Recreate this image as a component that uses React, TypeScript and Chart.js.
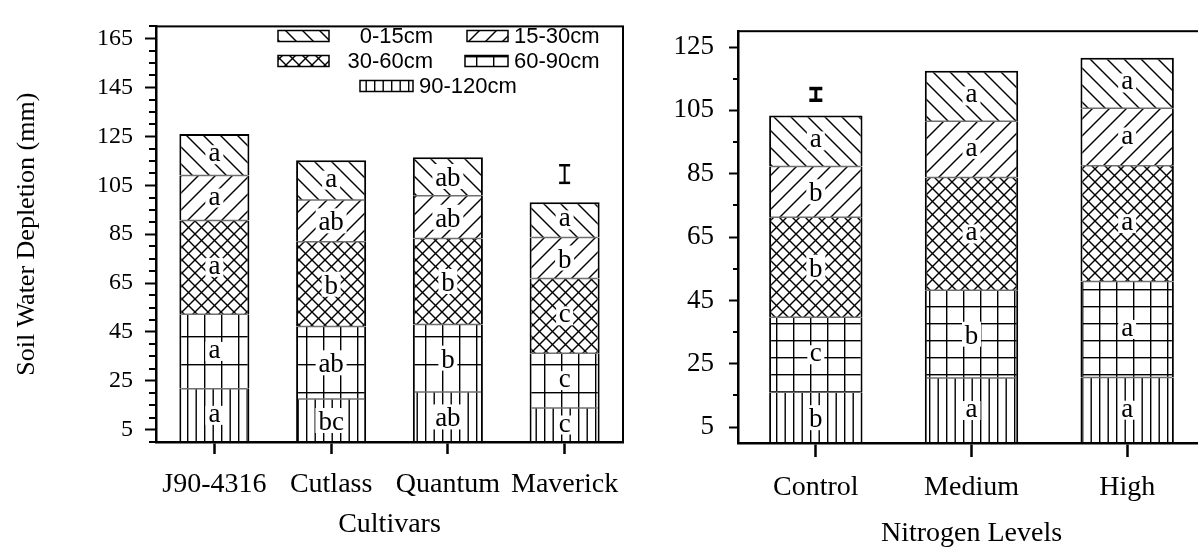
import React, { useEffect, useRef } from 'react';
import { Chart, registerables } from 'chart.js';
Chart.register(...registerables);

const SERIF = "'Liberation Serif', 'Times New Roman', serif";
const SANS = "'Liberation Sans', Arial, sans-serif";

// ---------- Data: soil layers ----------
const layers = ['0-15cm', '15-30cm', '30-60cm', '60-90cm', '90-120cm'];

// ---------- Left panel: cultivars ----------
const cultivars = ['J90-4316', 'Cutlass', 'Quantum', 'Maverick'];
const cult_0_15 = [17.0, 16.2, 15.8, 14.5];
const cult_15_30 = [18.4, 17.1, 17.5, 16.7];
const cult_30_60 = [38.3, 34.7, 35.1, 30.6];
const cult_60_90 = [30.5, 29.6, 27.6, 22.4];
const cult_90_120 = [21.8, 17.6, 20.5, 13.9];
const cultLetters_0_15 = ['a', 'a', 'ab', 'a'];
const cultLetters_15_30 = ['a', 'ab', 'ab', 'b'];
const cultLetters_30_60 = ['a', 'b', 'b', 'c'];
const cultLetters_60_90 = ['a', 'ab', 'b', 'c'];
const cultLetters_90_120 = ['a', 'bc', 'ab', 'c'];
const cultMajorTicks = [5, 25, 45, 65, 85, 105, 125, 145, 165];
const cultMinorTicks = [0, 10, 15, 20, 30, 35, 40, 50, 55, 60, 70, 75, 80, 90, 95, 100, 110, 115, 120, 130, 135, 140, 150, 155, 160, 170];
const cultLsdAt = 'Maverick';
const cultLsdRange = [106.0, 113.2];

// ---------- Right panel: nitrogen levels ----------
const nitrogen = ['Control', 'Medium', 'High'];
const nit_0_15 = [16.1, 15.9, 15.9];
const nit_15_30 = [16.0, 17.8, 18.2];
const nit_30_60 = [31.6, 35.6, 36.5];
const nit_60_90 = [23.7, 27.7, 30.3];
const nit_90_120 = [16.0, 20.5, 20.7];
const nitLetters_0_15 = ['a', 'a', 'a'];
const nitLetters_15_30 = ['b', 'a', 'a'];
const nitLetters_30_60 = ['b', 'a', 'a'];
const nitLetters_60_90 = ['c', 'b', 'a'];
const nitLetters_90_120 = ['b', 'a', 'a'];
const nitMajorTicks = [5, 25, 45, 65, 85, 105, 125];
const nitMinorTicks = [15, 35, 55, 75, 95, 115];
const nitLsdAt = 'Control';
const nitLsdRange = [108.2, 111.9];

// ---------- Patterns ----------
type Kind = 'back' | 'slash' | 'cross' | 'grid' | 'vert';
interface PatCfg { diag: number; cross: number; gridW: number; gridH: number; vert: number; lw: number; }

function makePattern(kind: Kind, cfg: PatCfg): CanvasPattern {
  const c = document.createElement('canvas');
  let w = 10, h = 10;
  if (kind === 'back' || kind === 'slash') { w = h = cfg.diag; }
  else if (kind === 'cross') { w = h = cfg.cross; }
  else if (kind === 'grid') { w = cfg.gridW; h = cfg.gridH; }
  else { w = Math.round(cfg.vert * 2); h = 10; }
  c.width = w; c.height = h;
  const g = c.getContext('2d')!;
  g.fillStyle = '#fff';
  g.fillRect(0, 0, w, h);
  g.strokeStyle = '#000';
  g.fillStyle = '#000';
  g.lineWidth = cfg.lw;
  const s = w;
  const back = () => {
    for (let k = -1; k <= 1; k++) {
      g.beginPath();
      g.moveTo(-s, -s + k * s);
      g.lineTo(2 * s, 2 * s + k * s);
      g.stroke();
    }
  };
  const slash = () => {
    for (let k = -1; k <= 2; k++) {
      g.beginPath();
      g.moveTo(-s, s + k * s);
      g.lineTo(2 * s, -2 * s + k * s);
      g.stroke();
    }
  };
  if (kind === 'back') back();
  else if (kind === 'slash') slash();
  else if (kind === 'cross') { back(); slash(); }
  else if (kind === 'grid') {
    g.fillRect(0, 0, cfg.lw, h);
    g.fillRect(0, 0, w, cfg.lw);
  } else {
    g.fillRect(0, 0, cfg.lw, h);
    g.fillRect(w / 2, 0, cfg.lw, h);
  }
  return g.createPattern(c, 'repeat')!;
}

// ---------- Plugins ----------
// thin grey dividing line at the top of every segment that has another segment above it
const segmentDividers = {
  id: 'segmentDividers',
  afterDatasetsDraw(chart: any, _a: any, opts: any) {
    const ctx: CanvasRenderingContext2D = chart.ctx;
    const n = chart.data.datasets.length;
    ctx.save();
    ctx.strokeStyle = opts.color || '#777';
    ctx.lineWidth = opts.width || 1.5;
    for (let i = 0; i < n - 1; i++) {
      const meta = chart.getDatasetMeta(i);
      meta.data.forEach((el: any) => {
        const { x, y, width } = el.getProps(['x', 'y', 'width'], true);
        ctx.beginPath();
        ctx.moveTo(x - width / 2 + 2, y);
        ctx.lineTo(x + width / 2 - 2, y);
        ctx.stroke();
      });
    }
    ctx.restore();
  },
};

const segmentLetters = {
  id: 'segmentLetters',
  afterDatasetsDraw(chart: any, _a: any, opts: any) {
    const ctx: CanvasRenderingContext2D = chart.ctx;
    ctx.save();
    ctx.font = opts.font;
    ctx.textAlign = 'center';
    ctx.textBaseline = 'alphabetic';
    chart.data.datasets.forEach((ds: any, i: number) => {
      const meta = chart.getDatasetMeta(i);
      if (!ds.letters) return;
      meta.data.forEach((el: any, j: number) => {
        const t = ds.letters[j];
        if (!t) return;
        const { x, y, base } = el.getProps(['x', 'y', 'base'], true);
        const cy = (y + base) / 2;
        const m = ctx.measureText(t);
        const asc = m.actualBoundingBoxAscent;
        const desc = m.actualBoundingBoxDescent;
        const bl = cy + (asc - desc) / 2;
        const wl = m.actualBoundingBoxLeft + m.actualBoundingBoxRight;
        ctx.fillStyle = '#fff';
        ctx.fillRect(x - wl / 2 - 3, bl - asc - 3, wl + 6, asc + desc + 6);
        ctx.fillStyle = '#000';
        ctx.fillText(t, x, bl);
      });
    });
    ctx.restore();
  },
};

const lsdBar = {
  id: 'lsdBar',
  afterDatasetsDraw(chart: any, _a: any, opts: any) {
    if (!opts.range) return;
    const ctx: CanvasRenderingContext2D = chart.ctx;
    const xs = chart.scales.x;
    const ys = chart.scales.y;
    const x = xs.getPixelForValue(xs.getLabels().indexOf(opts.at));
    const y1 = ys.getPixelForValue(opts.range[0]);
    const y2 = ys.getPixelForValue(opts.range[1]);
    ctx.save();
    ctx.fillStyle = '#000';
    ctx.fillRect(x - opts.stem / 2, y2, opts.stem, y1 - y2);
    ctx.fillRect(x - opts.capW / 2, y2 - opts.capT / 2, opts.capW, opts.capT);
    ctx.fillRect(x - opts.capW / 2, y1 - opts.capT / 2, opts.capW, opts.capT);
    ctx.restore();
  },
};

const minorTicks = {
  id: 'minorTicks',
  afterDraw(chart: any, _a: any, opts: any) {
    if (!opts.values) return;
    const ctx: CanvasRenderingContext2D = chart.ctx;
    const ys = chart.scales.y;
    const left = chart.chartArea.left;
    ctx.save();
    ctx.strokeStyle = '#000';
    ctx.lineWidth = opts.width;
    ctx.beginPath();
    opts.values.forEach((v: number) => {
      const py = Math.round(ys.getPixelForValue(v));
      ctx.moveTo(left, py);
      ctx.lineTo(left - opts.length, py);
    });
    ctx.stroke();
    ctx.restore();
  },
};

const frame = {
  id: 'frame',
  afterDraw(chart: any, _a: any, opts: any) {
    const ctx: CanvasRenderingContext2D = chart.ctx;
    const { left, right, top, bottom } = chart.chartArea;
    ctx.save();
    ctx.strokeStyle = '#000';
    ctx.lineWidth = opts.width || 2;
    ctx.strokeRect(left, top, right - left, bottom - top);
    ctx.restore();
  },
};

const patternLegend = {
  id: 'patternLegend',
  afterDraw(chart: any, _a: any, opts: any) {
    if (!opts.items) return;
    const ctx: CanvasRenderingContext2D = chart.ctx;
    ctx.save();
    ctx.font = opts.font;
    ctx.textBaseline = 'middle';
    opts.items.forEach((it: any) => {
      const ds = chart.data.datasets.find((d: any) => d.label === it.label);
      ctx.fillStyle = ds.backgroundColor;
      ctx.fillRect(it.boxX, it.y - it.boxH / 2, it.boxW, it.boxH);
      ctx.strokeStyle = '#000';
      ctx.lineWidth = 1.5;
      ctx.strokeRect(it.boxX, it.y - it.boxH / 2, it.boxW, it.boxH);
      ctx.fillStyle = '#000';
      ctx.textAlign = it.align;
      ctx.fillText(it.label, it.textX, it.y + 1);
    });
    ctx.restore();
  },
};

// ---------- Chart builders ----------
function buildDatasets(values: number[][], letters: string[][], cfg: PatCfg) {
  // bottom-most layer first so that stacking matches the figure
  const kinds: Kind[] = ['vert', 'grid', 'cross', 'slash', 'back'];
  const names = [layers[4], layers[3], layers[2], layers[1], layers[0]];
  return names.map((name, i) => ({
    label: name,
    data: values[i],
    letters: letters[i],
    backgroundColor: makePattern(kinds[i], cfg),
    borderColor: '#000',
    borderWidth: { top: i === 4 ? 2 : 0, left: 2, right: 2, bottom: 0 },
    borderSkipped: false,
    barPercentage: 0.6,
    categoryPercentage: 1.0,
    stack: 's',
  }));
}

function makeConfig(p: any) {
  return {
    type: 'bar',
    data: { labels: p.labels, datasets: p.datasets },
    options: {
      responsive: false,
      animation: false,
      events: [],
      layout: { padding: p.padding },
      plugins: {
        legend: { display: false },
        tooltip: { enabled: false },
        segmentDividers: { color: '#6f6f6f', width: 1.5 },
        segmentLetters: { font: `27px ${SERIF}` },
        lsdBar: p.lsd,
        minorTicks: { values: p.minor, length: p.minorLen, width: 2 },
        frame: { width: 2 },
        patternLegend: p.legend || {},
      },
      scales: {
        x: {
          stacked: true,
          offset: true,
          grid: { display: true, offset: false, drawOnChartArea: false, drawTicks: true, tickLength: p.xTickLen, tickWidth: 2.5, tickColor: '#000' },
          border: { display: true, color: '#000', width: 2.5 },
          ticks: { color: '#000', font: { family: SERIF, size: 28 }, padding: p.xTickPad, maxRotation: 0, autoSkip: false },
          title: { display: true, text: p.xTitle, color: '#000', font: { family: SERIF, size: 28, lineHeight: 1.2 }, padding: { top: 0, bottom: p.xTitlePad } },
          afterFit: (s: any) => { s.height = p.xHeight; },
        },
        y: {
          stacked: true,
          min: p.min,
          max: p.max,
          afterBuildTicks: (s: any) => { s.ticks = p.major.map((v: number) => ({ value: v })); },
          grid: { display: true, drawOnChartArea: false, drawTicks: true, tickLength: p.yTickLen, tickWidth: 2, tickColor: '#000' },
          border: { display: true, color: '#000', width: 2.5 },
          ticks: { color: '#000', font: { family: SERIF, size: p.yTickSize }, padding: p.yTickPad, callback: (v: any) => String(v) },
          title: p.yTitle
            ? { display: true, text: p.yTitle, color: '#000', font: { family: SERIF, size: 26, lineHeight: 1.2 }, padding: { top: p.yTitlePad, bottom: 0 } }
            : { display: false },
          afterFit: (s: any) => { s.width = p.yWidth; },
        },
      },
    },
    plugins: [segmentDividers, segmentLetters, lsdBar, minorTicks, frame, patternLegend],
  };
}

function ChartCanvas({ build, width, height, style }: any) {
  const ref = useRef<HTMLCanvasElement>(null);
  useEffect(() => {
    const chart = new Chart(ref.current as HTMLCanvasElement, build() as any);
    return () => chart.destroy();
  }, []);
  return <canvas ref={ref} width={width} height={height} style={{ position: 'absolute', width, height, ...style }} />;
}

export default function App() {
  const leftCfg: PatCfg = { diag: 17, cross: 13, gridW: 17, gridH: 28, vert: 8.5, lw: 1.4 };
  const rightCfg: PatCfg = { diag: 17, cross: 13, gridW: 17, gridH: 17, vert: 8.5, lw: 1.4 };

  const buildLeft = () => makeConfig({
    labels: cultivars,
    datasets: buildDatasets(
      [cult_90_120, cult_60_90, cult_30_60, cult_15_30, cult_0_15],
      [cultLetters_90_120, cultLetters_60_90, cultLetters_30_60, cultLetters_15_30, cultLetters_0_15],
      leftCfg,
    ),
    padding: { top: 11, right: 17, left: 0, bottom: 0 },
    min: 0, max: 170,
    major: cultMajorTicks, minor: cultMinorTicks, minorLen: 7,
    yTickLen: 11, yTickSize: 24, yTickPad: 12, yWidth: 156,
    yTitle: 'Soil Water Depletion (mm)', yTitlePad: 12,
    xTitle: 'Cultivars', xTickLen: 12, xTickPad: 14, xHeight: 108, xTitlePad: 9,
    lsd: { at: cultLsdAt, range: cultLsdRange, stem: 2, capW: 11, capT: 2.5 },
    legend: {
      font: `22px ${SANS}`,
      items: [
        { label: layers[0], boxX: 278, boxW: 51, boxH: 11, y: 36, textX: 433, align: 'right' },
        { label: layers[1], boxX: 467, boxW: 41, boxH: 11, y: 36, textX: 514, align: 'left' },
        { label: layers[2], boxX: 278, boxW: 51, boxH: 11, y: 61, textX: 433, align: 'right' },
        { label: layers[3], boxX: 465, boxW: 43, boxH: 11, y: 61, textX: 514, align: 'left' },
        { label: layers[4], boxX: 360, boxW: 53, boxH: 11, y: 86, textX: 419, align: 'left' },
      ],
    },
  });

  const buildRight = () => makeConfig({
    labels: nitrogen,
    datasets: buildDatasets(
      [nit_90_120, nit_60_90, nit_30_60, nit_15_30, nit_0_15],
      [nitLetters_90_120, nitLetters_60_90, nitLetters_30_60, nitLetters_15_30, nitLetters_0_15],
      rightCfg,
    ),
    padding: { top: 11, right: 25, left: 0, bottom: 0 },
    min: 0, max: 130,
    major: nitMajorTicks, minor: nitMinorTicks, minorLen: 5,
    yTickLen: 9, yTickSize: 27, yTickPad: 15, yWidth: 98,
    yTitle: null, yTitlePad: 0,
    xTitle: 'Nitrogen Levels', xTickLen: 14, xTickPad: 14, xHeight: 107, xTitlePad: 0,
    lsd: { at: nitLsdAt, range: nitLsdRange, stem: 3, capW: 13, capT: 3.5 },
  });

  return (
    <div style={{ position: 'fixed', left: 0, top: 0, width: 1198, height: 550, overflow: 'hidden', background: '#fff' }}>
      <ChartCanvas build={buildLeft} width={640} height={550} style={{ left: 0, top: 0 }} />
      <ChartCanvas build={buildRight} width={590} height={550} style={{ left: 640, top: 0 }} />
    </div>
  );
}
